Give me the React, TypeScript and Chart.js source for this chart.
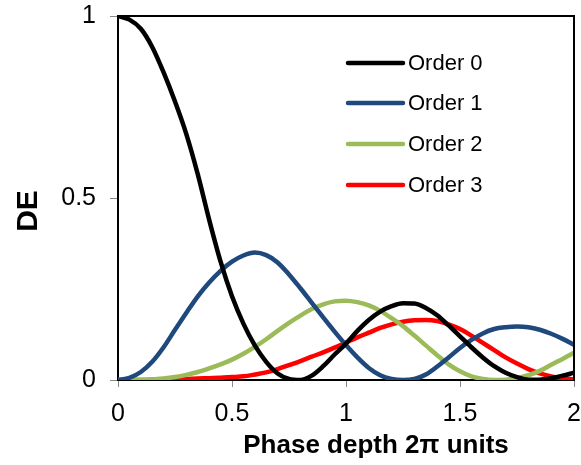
import React, { useEffect, useRef } from "react";
import { Chart, registerables } from "chart.js";

Chart.register(...registerables);

const phase = [
  0, 0.05, 0.1, 0.15, 0.2, 0.25, 0.3, 0.35, 0.4, 0.45, 0.5, 0.55, 0.6, 0.65, 0.7, 0.75, 0.8, 0.85, 0.9, 0.95,
  1.0, 1.05, 1.1, 1.15, 1.2, 1.25, 1.3, 1.35, 1.4, 1.45, 1.5, 1.55, 1.6, 1.65, 1.7, 1.75, 1.8, 1.85, 1.9, 1.95, 2.0,
];

const order0 = [
  1.0, 0.99, 0.965, 0.915, 0.845, 0.765, 0.675, 0.565, 0.44, 0.325, 0.23, 0.155, 0.095, 0.05, 0.018, 0.003, 0.0, 0.012, 0.038, 0.07,
  0.1, 0.135, 0.165, 0.188, 0.203, 0.211, 0.21, 0.198, 0.178, 0.15, 0.12, 0.09, 0.062, 0.038, 0.02, 0.008, 0.001, 0.001, 0.005, 0.012, 0.02,
];

const order1 = [
  0, 0.006, 0.022, 0.05, 0.09, 0.138, 0.185, 0.23, 0.268, 0.3, 0.325, 0.342, 0.35, 0.343, 0.323, 0.29, 0.252, 0.212, 0.172, 0.133,
  0.096, 0.062, 0.033, 0.013, 0.003, 0.0, 0.003, 0.015, 0.037, 0.062, 0.088, 0.11, 0.128, 0.14, 0.145, 0.147, 0.145, 0.138, 0.127, 0.113, 0.097,
];

const order2 = [
  0, 0, 0.0005, 0.002, 0.004, 0.008, 0.014, 0.022, 0.032, 0.043, 0.056, 0.072, 0.091, 0.112, 0.135, 0.157, 0.177, 0.195, 0.208, 0.216,
  0.218, 0.214, 0.205, 0.19, 0.17, 0.148, 0.122, 0.095, 0.068, 0.043, 0.024, 0.01, 0.003, 0.0, 0.001, 0.005, 0.013, 0.025, 0.042, 0.058, 0.075,
];

const order3 = [
  0, 0, 0, 0.0005, 0.001, 0.002, 0.003, 0.004, 0.005, 0.006, 0.008, 0.01, 0.015, 0.021, 0.03, 0.041, 0.052, 0.064, 0.076, 0.089,
  0.103, 0.117, 0.13, 0.143, 0.153, 0.16, 0.164, 0.165, 0.162, 0.153, 0.14, 0.122, 0.102, 0.082, 0.062, 0.045, 0.03, 0.018, 0.01, 0.005, 0.002,
];

const seriesLabels = ["Order 0", "Order 1", "Order 2", "Order 3"];
const seriesColors = ["#000000", "#1F497D", "#9BBB59", "#FF0000"];
const xTickLabels = ["0", "0.5", "1", "1.5", "2"];
const yTickLabels = ["0", "0.5", "1"];
const xTitle = "Phase depth 2π units";
const yTitle = "DE";

const FONT = "'Liberation Sans', Arial, sans-serif";

const frameAndLegend = {
  id: "frameAndLegend",
  afterDatasetsDraw(chart: any) {
    const { ctx, chartArea } = chart;
    ctx.save();
    ctx.strokeStyle = "#000000";
    ctx.lineWidth = 2;
    ctx.beginPath();
    ctx.moveTo(chartArea.left, chartArea.top);
    ctx.lineTo(chartArea.right, chartArea.top);
    ctx.lineTo(chartArea.right, chartArea.bottom);
    ctx.stroke();
    const x0 = 348;
    const x1 = 403;
    const ys = [63, 103, 144, 185];
    ctx.font = `22px ${FONT}`;
    ctx.textBaseline = "middle";
    ctx.textAlign = "left";
    chart.data.datasets.forEach((ds: any, i: number) => {
      ctx.strokeStyle = ds.borderColor;
      ctx.lineWidth = 4.5;
      ctx.lineCap = "round";
      ctx.beginPath();
      ctx.moveTo(x0, ys[i]);
      ctx.lineTo(x1, ys[i]);
      ctx.stroke();
      ctx.fillStyle = "#000000";
      ctx.fillText(ds.label, 408, ys[i] + 1);
    });
    ctx.fillStyle = "#000000";
    ctx.font = `bold 26px ${FONT}`;
    ctx.textAlign = "center";
    ctx.textBaseline = "alphabetic";
    ctx.fillText(xTitle, 376, 453);
    ctx.translate(37, 211);
    ctx.rotate(-Math.PI / 2);
    ctx.font = `bold 30px ${FONT}`;
    ctx.fillText(yTitle, 0, 0);
    ctx.restore();
  },
};

export default function App() {
  const ref = useRef<HTMLCanvasElement>(null);
  useEffect(() => {
    if (!ref.current) return;
    const mk = (vals: number[]) => phase.map((p, i) => ({ x: p, y: vals[i] }));
    const all = [order0, order1, order2, order3];
    const chart = new Chart(ref.current, {
      type: "line",
      data: {
        datasets: all.map((vals, i) => ({
          label: seriesLabels[i],
          data: mk(vals),
          borderColor: seriesColors[i],
          backgroundColor: seriesColors[i],
          borderWidth: 4.5,
          pointRadius: 0,
          cubicInterpolationMode: "monotone" as const,
          fill: false,
        })),
      },
      options: {
        responsive: false,
        animation: false,
        layout: { padding: { top: 16, right: 7, left: 0, bottom: 0 } },
        plugins: { legend: { display: false }, tooltip: { enabled: false } },
        scales: {
          x: {
            type: "linear",
            min: 0,
            max: 2,
            afterFit: (s: any) => {
              s.height = 85;
              s.paddingLeft = 0;
              s.paddingRight = 0;
              s.paddingTop = 0;
              s.paddingBottom = 0;
            },
            afterBuildTicks: (s: any) => {
              s.ticks = xTickLabels.map((t) => ({ value: parseFloat(t) }));
            },
            ticks: {
              color: "#000000",
              font: { family: FONT, size: 25 },
              padding: 12,
              maxRotation: 0,
              minRotation: 0,
              autoSkip: false,
              callback: (v: any) => xTickLabels.find((t) => parseFloat(t) === v) ?? "",
            },
            grid: { drawOnChartArea: false, drawTicks: true, tickLength: 7, color: "#888888", lineWidth: 1 },
            border: { display: true, color: "#000000", width: 2 },
          },
          y: {
            type: "linear",
            min: 0,
            max: 1,
            afterFit: (s: any) => {
              s.width = 118;
              s.paddingLeft = 0;
              s.paddingRight = 0;
              s.paddingTop = 0;
              s.paddingBottom = 0;
            },
            afterBuildTicks: (s: any) => {
              s.ticks = yTickLabels.map((t) => ({ value: parseFloat(t) }));
            },
            ticks: {
              color: "#000000",
              font: { family: FONT, size: 25 },
              padding: 14,
              autoSkip: false,
              callback: (v: any) => yTickLabels.find((t) => parseFloat(t) === v) ?? "",
            },
            grid: { drawOnChartArea: false, drawTicks: true, tickLength: 8, color: "#888888", lineWidth: 1 },
            border: { display: true, color: "#000000", width: 2 },
          },
        },
      },
      plugins: [frameAndLegend],
    });
    return () => chart.destroy();
  }, []);
  return (
    <div style={{ position: "fixed", left: 0, top: 0, width: 581, height: 465, background: "#ffffff" }}>
      <canvas ref={ref} width={581} height={465} />
    </div>
  );
}
